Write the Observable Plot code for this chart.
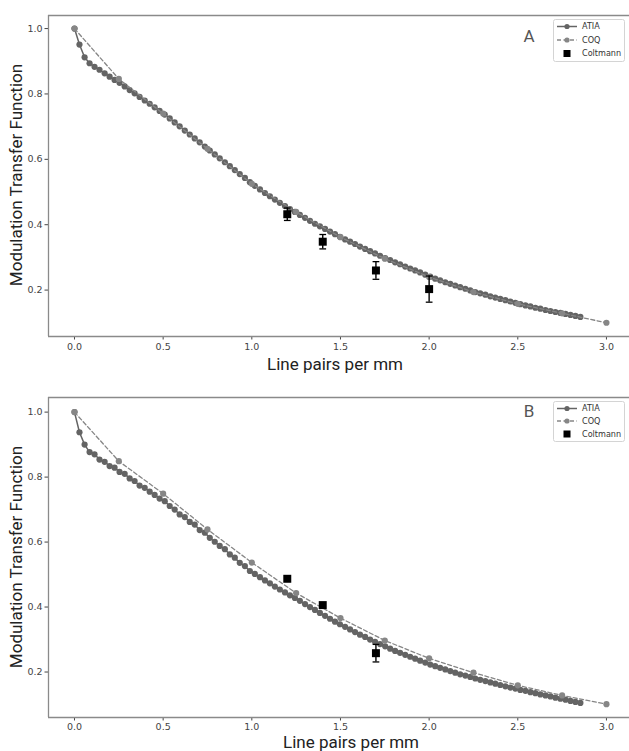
<!DOCTYPE html>
<html>
<head>
<meta charset="utf-8">
<script src="https://cdn.jsdelivr.net/npm/d3@7"></script>
<script src="https://cdn.jsdelivr.net/npm/@observablehq/plot@0.6"></script>
<style>
  html, body { margin: 0; padding: 0; background: white; }
  #chart svg { display: block; }
</style>
</head>
<body>
<div id="chart"></div>
<script>
// ---- data ----
const atiaX = [0.000,0.028,0.057,0.085,0.113,0.141,0.170,0.198,0.226,0.254,
  0.283,0.311,0.339,0.367,0.396,0.424,0.452,0.480,0.509,0.537,
  0.565,0.593,0.622,0.650,0.678,0.706,0.735,0.763,0.791,0.819,
  0.848,0.876,0.904,0.932,0.961,0.989,1.017,1.046,1.074,1.102,
  1.130,1.158,1.187,1.215,1.243,1.271,1.300,1.328,1.356,1.384,
  1.413,1.441,1.469,1.497,1.526,1.554,1.582,1.610,1.639,1.667,
  1.695,1.723,1.752,1.780,1.808,1.836,1.865,1.893,1.921,1.949,
  1.978,2.006,2.034,2.062,2.091,2.119,2.147,2.175,2.204,2.232,
  2.260,2.288,2.317,2.345,2.373,2.401,2.430,2.458,2.486,2.514,
  2.543,2.571,2.599,2.627,2.656,2.684,2.712,2.740,2.769,2.797,
  2.825,2.853];
const atiaA = [1.000,0.951,0.912,0.894,0.883,0.874,0.863,0.853,0.843,0.834,
  0.823,0.812,0.802,0.791,0.780,0.770,0.759,0.748,0.737,0.725,
  0.713,0.701,0.688,0.676,0.664,0.652,0.639,0.627,0.615,0.603,
  0.591,0.579,0.567,0.555,0.543,0.530,0.519,0.508,0.497,0.487,
  0.477,0.467,0.457,0.448,0.439,0.430,0.421,0.412,0.403,0.395,
  0.387,0.379,0.371,0.363,0.355,0.348,0.341,0.333,0.326,0.319,
  0.312,0.305,0.298,0.292,0.285,0.279,0.272,0.266,0.260,0.254,
  0.247,0.241,0.235,0.230,0.224,0.219,0.214,0.209,0.204,0.199,
  0.194,0.190,0.186,0.181,0.177,0.173,0.169,0.165,0.161,0.157,
  0.153,0.150,0.146,0.143,0.139,0.136,0.133,0.130,0.127,0.124,
  0.121,0.118];
const atiaB = [1.000,0.938,0.900,0.877,0.870,0.854,0.847,0.834,0.829,0.816,
  0.810,0.796,0.788,0.774,0.767,0.755,0.745,0.734,0.726,0.711,
  0.700,0.685,0.677,0.662,0.654,0.637,0.629,0.613,0.601,0.588,
  0.578,0.562,0.552,0.536,0.526,0.511,0.502,0.492,0.482,0.473,
  0.463,0.454,0.445,0.436,0.428,0.419,0.409,0.400,0.391,0.382,
  0.373,0.364,0.355,0.347,0.339,0.331,0.323,0.315,0.308,0.300,
  0.293,0.286,0.279,0.272,0.265,0.259,0.253,0.247,0.241,0.235,
  0.229,0.223,0.218,0.213,0.208,0.203,0.198,0.193,0.189,0.185,
  0.180,0.176,0.172,0.168,0.164,0.160,0.156,0.152,0.149,0.145,
  0.142,0.138,0.135,0.131,0.128,0.125,0.121,0.118,0.115,0.111,
  0.108,0.105];
const coqX = [0,0.25,0.5,0.75,1.0,1.25,1.5,1.75,2.0,2.25,2.5,2.75,3.0];
const coqA = [1.000,0.846,0.740,0.632,0.525,0.439,0.362,0.296,0.240,0.194,0.158,0.129,0.100];
const coqB = [1.000,0.849,0.749,0.639,0.537,0.443,0.366,0.297,0.242,0.198,0.159,0.128,0.101];
const coltAX = [1.2,1.4,1.7,2.0];
const coltAY = [0.432,0.348,0.260,0.203];
const coltAErr = [0.019,0.022,0.027,0.040];
const coltBX = [1.2,1.4,1.7];
const coltBY = [0.487,0.406,0.258];
const coltBErr = [0,0,0.027];
const xTicks = [0,0.5,1.0,1.5,2.0,2.5,3.0];
const yTicks = [0.2,0.4,0.6,0.8,1.0];
const seriesNames = ["ATIA","COQ","Coltmann"];
const panelLetters = ["A","B"];
const xTitle = "Line pairs per mm";
const yTitle = "Modulation Transfer Function";

// ---- styling ----
const ATIA_C = "#646464", COQ_C = "#868686", SPINE = "#8a8a8a";
const hline = {draw(ctx, size){ const w = Math.sqrt(size) * 0.95; ctx.moveTo(-w,0); ctx.lineTo(w,0); }};

function panel(o) {
  const atia = atiaX.map((x,i)=>({x, y:o.atia[i]}));
  const coq = coqX.map((x,i)=>({x, y:o.coq[i]}));
  const colt = o.coltX.map((x,i)=>({x, y:o.coltY[i], e:o.coltErr[i]}));
  const bars = colt.filter(d=>d.e>0);
  const xd = [-0.1466, 3.13];
  const svg = Plot.plot({
    width: 629, height: o.height,
    marginLeft: 48, marginRight: 0, marginTop: o.mt, marginBottom: o.mb,
    style: {fontFamily: "DejaVu Sans", fontSize: "9.5px", color: "#444", background: "white", overflow: "visible"},
    x: {domain: xd, ticks: xTicks, tickFormat: d3.format(".1f"), tickSize: 3.5, tickPadding: o.xpad, label: null},
    y: {domain: o.yd, ticks: yTicks, tickFormat: d3.format(".1f"), tickSize: 3.5, tickPadding: 2.5, label: null},
    marks: [
      Plot.ruleX([xd[0]], {stroke: SPINE, strokeWidth: 1.3}),
      Plot.ruleY([o.yd[0]], {stroke: SPINE, strokeWidth: 1.3}),
      Plot.ruleY([o.yd[1]], {stroke: SPINE, strokeWidth: 1.3}),
      Plot.line(atia, {x:"x", y:"y", stroke: ATIA_C, strokeWidth: 1.5}),
      Plot.dot(atia, {x:"x", y:"y", r: 3.1, fill: ATIA_C}),
      Plot.line(coq, {x:"x", y:"y", stroke: COQ_C, strokeWidth: 1.3, strokeDasharray: "4,2.5"}),
      Plot.dot(coq, {x:"x", y:"y", r: 3.1, fill: COQ_C}),
      Plot.ruleX(bars, {x:"x", y1: d=>d.y-d.e, y2: d=>d.y+d.e, stroke: "black", strokeWidth: 1.4}),
      Plot.dot(bars, {x:"x", y: d=>d.y+d.e, symbol: hline, r: 2, stroke: "black", strokeWidth: 1.3}),
      Plot.dot(bars, {x:"x", y: d=>d.y-d.e, symbol: hline, r: 2, stroke: "black", strokeWidth: 1.3}),
      Plot.dot(colt, {x:"x", y:"y", symbol: "square", r: 4.5, fill: "black"})
    ]
  });
  const s = d3.select(svg);
  // axis titles
  s.append("text").text(xTitle)
    .attr("x", o.xtx).attr("y", o.xty)
    .attr("text-anchor","middle").attr("dominant-baseline","middle")
    .attr("font-family","Roboto").attr("font-size", 17).attr("fill","#222");
  s.append("text").text(yTitle)
    .attr("transform", `translate(18,${o.yty}) rotate(-90)`)
    .attr("text-anchor","middle").attr("dominant-baseline","middle")
    .attr("font-family","Roboto").attr("font-size", 17).attr("fill","#222");
  // panel letter
  s.append("text").text(o.letter)
    .attr("x", 529).attr("y", o.lety)
    .attr("text-anchor","middle").attr("dominant-baseline","middle")
    .attr("font-family","Roboto").attr("font-size", 17).attr("fill","#555");
  // legend
  const g = s.append("g").attr("font-family","DejaVu Sans").attr("font-size", 8.1)
    .attr("fill","#333").attr("text-anchor","start");
  g.append("rect").attr("x",553.5).attr("y",o.legY).attr("width",71).attr("height",o.legH)
    .attr("rx",2).attr("fill","white").attr("fill-opacity",0.85).attr("stroke","#d4d4d4");
  o.rows.forEach((ry,i)=>{
    if (i===0) {
      g.append("line").attr("x1",557).attr("x2",577).attr("y1",ry).attr("y2",ry).attr("stroke",ATIA_C).attr("stroke-width",1.5);
      g.append("circle").attr("cx",567).attr("cy",ry).attr("r",2.6).attr("fill",ATIA_C);
    } else if (i===1) {
      g.append("line").attr("x1",557).attr("x2",577).attr("y1",ry).attr("y2",ry).attr("stroke",COQ_C).attr("stroke-width",1.3).attr("stroke-dasharray","4,2.5");
      g.append("circle").attr("cx",567).attr("cy",ry).attr("r",2.6).attr("fill",COQ_C);
    } else {
      g.append("rect").attr("x",563.5).attr("y",ry-3.5).attr("width",7).attr("height",7).attr("fill","black");
    }
    g.append("text").text(seriesNames[i]).attr("x",582).attr("y",ry)
      .attr("text-anchor","start").attr("dominant-baseline","middle");
  });
  return svg;
}

const root = document.getElementById("chart");
root.append(panel({
  atia: atiaA, coq: coqA, coltX: coltAX, coltY: coltAY, coltErr: coltAErr,
  height: 383, mt: 15, mb: 47, yd: [0.058, 1.040], xpad: 3.5,
  xtx: 335, xty: 366, yty: 175, letter: panelLetters[0], lety: 38,
  legY: 19.5, legH: 42, rows: [26.5, 40, 53.5]
}));
root.append(panel({
  atia: atiaB, coq: coqB, coltX: coltBX, coltY: coltBY, coltErr: coltBErr,
  height: 368, mt: 14, mb: 34, yd: [0.06, 1.045], xpad: 2,
  xtx: 351, xty: 360.5, yty: 174, letter: panelLetters[1], lety: 30,
  legY: 18.5, legH: 40, rows: [25.5, 38, 51]
}));
</script>
</body>
</html>
